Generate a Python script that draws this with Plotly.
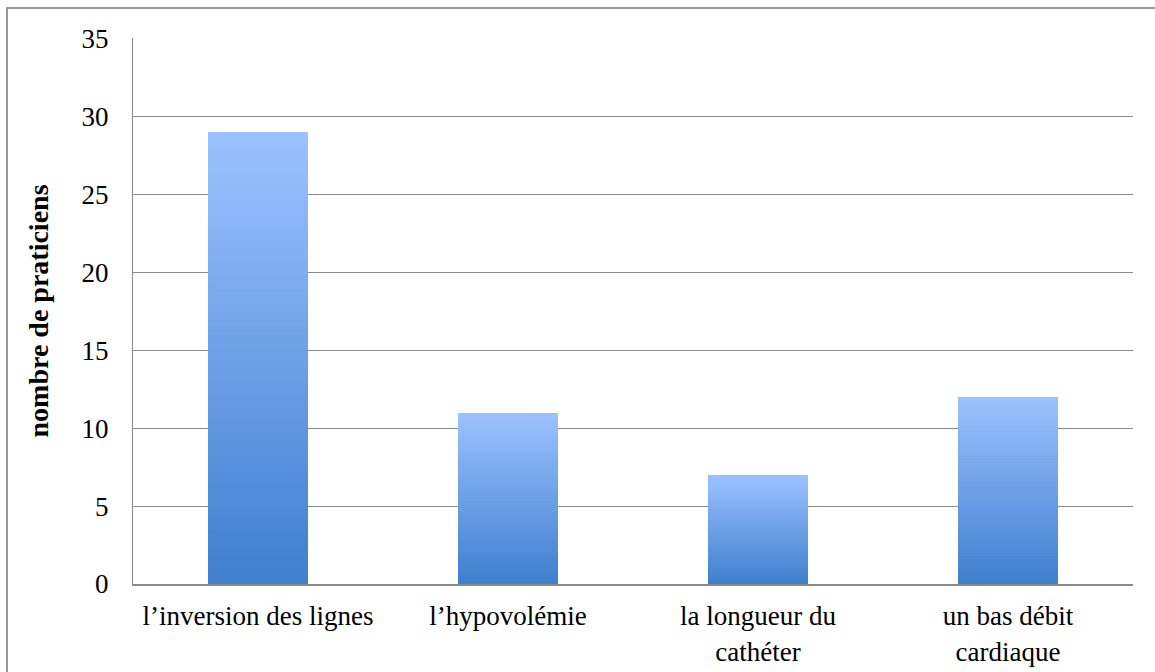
import plotly.graph_objects as go

categories = ["l’inversion des lignes", "l’hypovolémie", "la longueur du<br>cathéter", "un bas débit<br>cardiaque"]
values = [29, 11, 7, 12]
y_ticks = [0, 5, 10, 15, 20, 25, 30, 35]
y_title = "nombre de praticiens"

top_rgb = (156, 194, 255)
bottom_rgb = (63, 127, 207)
n_layers = 60

fig = go.Figure()
for k in range(n_layers):
    t = (k + 0.5) / n_layers
    r, g, b = [round(bottom_rgb[i] + (top_rgb[i] - bottom_rgb[i]) * t) for i in range(3)]
    col = f"rgb({r},{g},{b})"
    fig.add_trace(go.Bar(
        x=categories,
        y=[v / n_layers for v in values],
        marker=dict(color=col, line=dict(color=col, width=0.02)),
        hoverinfo="skip",
        showlegend=False,
    ))

font_family = "Liberation Serif"
fig.update_layout(
    width=1155, height=672,
    margin=dict(l=133, r=22, t=38, b=88),
    barmode="stack",
    bargap=0.6,
    plot_bgcolor="white",
    paper_bgcolor="white",
    font=dict(family=font_family, color="black", size=25),
    shapes=[dict(type="rect", xref="paper", yref="paper",
                 x0=-0.126, x1=1.04, y0=-0.2, y1=1.0549,
                 line=dict(color="#999999", width=2), layer="below")],
)
fig.update_yaxes(
    range=[0, 35.03], tickvals=y_ticks, ticktext=[str(v) for v in y_ticks],
    automargin=False,
    showgrid=True, gridcolor="#8a8a8a", gridwidth=1,
    showline=True, linecolor="#8a8a8a", linewidth=1,
    zeroline=False, ticks="", ticklabelstandoff=18,
    tickfont=dict(size=27, family=font_family),
    title=dict(text=f"<b>{y_title}</b>", font=dict(size=28, family=font_family), standoff=24),
)
fig.update_xaxes(
    automargin=False,
    showline=True, linecolor="#8a8a8a", linewidth=2,
    ticks="", ticklabelstandoff=7,
    tickfont=dict(size=27, family=font_family),
)
fig.write_html("out.html", config={"displayModeBar": False},
               post_script="document.body.style.margin='0';")
